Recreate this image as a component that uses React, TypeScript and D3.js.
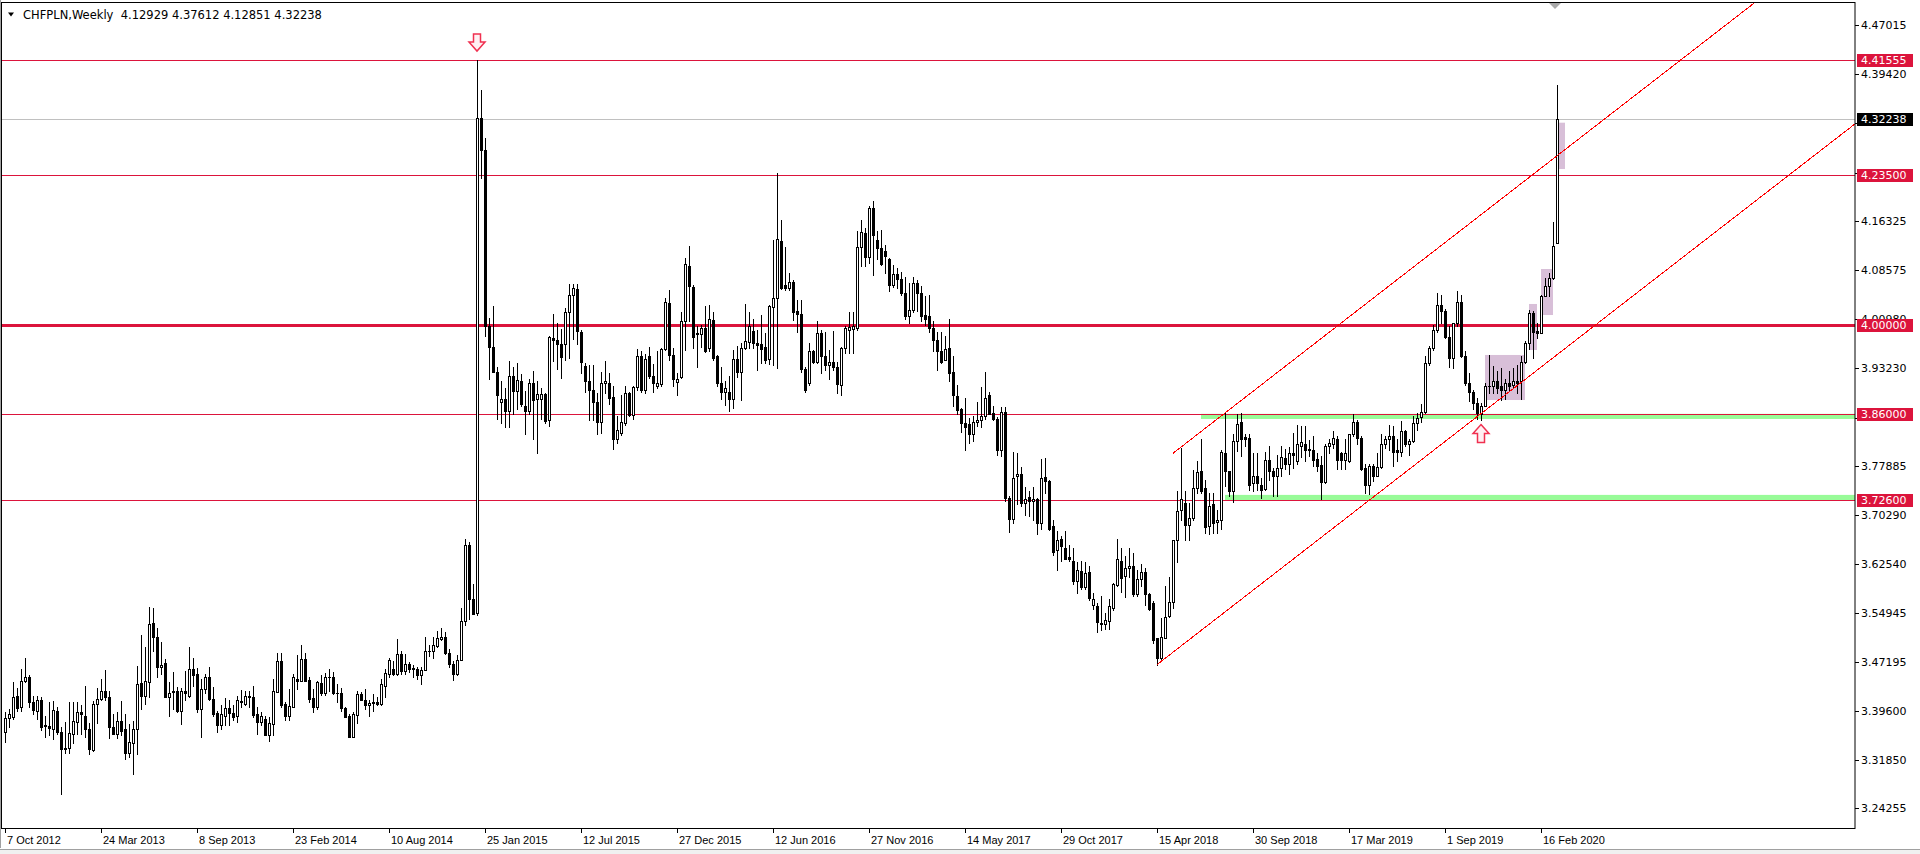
import React from "react";
import * as d3 from "d3";

// Weekly candles, [open, high, low, close], first bar = week of 7 Oct 2012
const ohlc: [number, number, number, number][] = [
  [3.362,3.393,3.346,3.385],[3.384,3.398,3.370,3.391],[3.386,3.440,3.383,3.418],[3.419,3.432,3.396,3.400],
  [3.401,3.461,3.396,3.443],[3.442,3.479,3.440,3.449],[3.449,3.452,3.401,3.409],[3.410,3.419,3.390,3.397],
  [3.396,3.419,3.383,3.412],[3.412,3.417,3.365,3.371],[3.372,3.388,3.354,3.373],[3.372,3.409,3.357,3.369],
  [3.367,3.411,3.352,3.397],[3.396,3.401,3.359,3.362],[3.363,3.370,3.265,3.336],[3.336,3.378,3.329,3.338],
  [3.337,3.410,3.329,3.361],[3.359,3.409,3.345,3.379],[3.378,3.409,3.359,3.394],[3.393,3.405,3.359,3.391],
  [3.388,3.435,3.354,3.367],[3.367,3.376,3.328,3.335],[3.334,3.411,3.333,3.406],[3.406,3.432,3.376,3.414],
  [3.414,3.445,3.412,3.426],[3.427,3.459,3.413,3.418],[3.418,3.426,3.353,3.370],[3.371,3.391,3.359,3.359],
  [3.360,3.393,3.353,3.379],[3.379,3.411,3.357,3.364],[3.367,3.390,3.320,3.329],[3.329,3.375,3.323,3.347],
  [3.345,3.380,3.297,3.367],[3.367,3.466,3.328,3.438],[3.439,3.515,3.398,3.419],[3.419,3.495,3.407,3.443],
  [3.440,3.558,3.417,3.531],[3.533,3.556,3.489,3.512],[3.512,3.526,3.449,3.465],[3.464,3.504,3.454,3.468],
  [3.470,3.477,3.417,3.418],[3.418,3.440,3.387,3.424],[3.425,3.456,3.398,3.426],[3.426,3.433,3.394,3.395],
  [3.395,3.432,3.375,3.426],[3.426,3.458,3.412,3.424],[3.419,3.496,3.417,3.461],[3.461,3.478,3.434,3.451],
  [3.453,3.463,3.393,3.399],[3.399,3.446,3.354,3.430],[3.430,3.454,3.423,3.449],[3.449,3.465,3.413,3.414],
  [3.414,3.433,3.387,3.391],[3.392,3.395,3.362,3.374],[3.374,3.405,3.367,3.390],[3.388,3.416,3.374,3.400],
  [3.400,3.413,3.374,3.392],[3.392,3.405,3.381,3.386],[3.387,3.419,3.378,3.412],[3.411,3.428,3.401,3.409],
  [3.407,3.427,3.405,3.419],[3.419,3.427,3.401,3.417],[3.418,3.434,3.386,3.389],[3.390,3.401,3.360,3.378],
  [3.378,3.393,3.373,3.387],[3.383,3.387,3.357,3.358],[3.358,3.386,3.349,3.377],[3.375,3.446,3.358,3.426],
  [3.425,3.487,3.425,3.474],[3.474,3.486,3.402,3.405],[3.406,3.409,3.381,3.387],[3.387,3.430,3.381,3.403],
  [3.401,3.453,3.401,3.448],[3.446,3.483,3.430,3.443],[3.443,3.499,3.443,3.477],[3.477,3.487,3.442,3.443],
  [3.444,3.448,3.409,3.414],[3.415,3.430,3.393,3.401],[3.401,3.443,3.399,3.440],[3.439,3.451,3.421,3.424],
  [3.423,3.455,3.421,3.449],[3.449,3.461,3.426,3.448],[3.449,3.456,3.422,3.424],[3.424,3.438,3.409,3.423],
  [3.424,3.431,3.396,3.400],[3.400,3.402,3.386,3.386],[3.387,3.390,3.354,3.354],[3.354,3.393,3.354,3.390],
  [3.389,3.426,3.376,3.422],[3.422,3.425,3.412,3.413],[3.413,3.430,3.398,3.405],[3.405,3.413,3.388,3.408],
  [3.408,3.422,3.395,3.409],[3.409,3.417,3.404,3.406],[3.406,3.446,3.404,3.438],[3.435,3.461,3.418,3.455],
  [3.453,3.478,3.449,3.475],[3.461,3.474,3.451,3.454],[3.454,3.508,3.451,3.484],[3.485,3.490,3.454,3.458],
  [3.458,3.484,3.453,3.469],[3.469,3.472,3.456,3.461],[3.462,3.468,3.448,3.461],[3.461,3.464,3.446,3.451],
  [3.452,3.464,3.438,3.460],[3.460,3.512,3.460,3.489],[3.489,3.498,3.482,3.490],[3.489,3.512,3.478,3.498],
  [3.497,3.520,3.495,3.509],[3.508,3.525,3.506,3.512],[3.512,3.519,3.485,3.486],[3.487,3.492,3.464,3.469],
  [3.469,3.474,3.444,3.453],[3.453,3.483,3.452,3.476],[3.476,3.557,3.476,3.536],[3.536,3.665,3.530,3.655],
  [3.655,3.660,3.540,3.571],[3.571,3.595,3.547,3.548],[3.549,4.4155,3.545,4.324],[4.324,4.369,4.231,4.275],
  [4.275,4.294,3.983,3.999],[3.999,4.011,3.915,3.965],[3.965,4.030,3.928,3.926],[3.926,3.934,3.853,3.891],
  [3.880,3.912,3.847,3.884],[3.884,3.902,3.840,3.866],[3.866,3.944,3.840,3.920],[3.920,3.934,3.860,3.897],
  [3.897,3.940,3.868,3.914],[3.913,3.924,3.874,3.877],[3.874,3.897,3.830,3.866],[3.866,3.915,3.860,3.910],
  [3.910,3.928,3.821,3.882],[3.884,3.913,3.799,3.892],[3.884,3.902,3.853,3.892],[3.892,3.894,3.847,3.850],
  [3.851,3.983,3.842,3.981],[3.980,4.017,3.944,3.977],[3.977,4.004,3.931,3.970],[3.970,3.994,3.917,3.950],
  [3.970,4.027,3.945,4.020],[4.020,4.064,3.949,4.048],[4.048,4.065,3.978,4.059],[4.056,4.064,3.970,3.991],
  [3.990,3.993,3.925,3.942],[3.936,3.940,3.896,3.913],[3.913,3.938,3.852,3.898],[3.898,3.938,3.852,3.879],
  [3.880,3.893,3.830,3.849],[3.848,3.927,3.831,3.909],[3.909,3.944,3.893,3.913],[3.909,3.925,3.877,3.886],
  [3.888,3.904,3.806,3.821],[3.821,3.857,3.815,3.836],[3.831,3.891,3.828,3.848],[3.846,3.904,3.844,3.893],
  [3.893,3.896,3.857,3.859],[3.859,3.905,3.853,3.903],[3.903,3.962,3.899,3.952],[3.952,3.959,3.896,3.899],
  [3.899,3.955,3.894,3.947],[3.952,3.966,3.917,3.921],[3.921,3.939,3.896,3.909],[3.904,3.959,3.901,3.909],
  [3.908,3.964,3.905,3.962],[3.962,4.042,3.961,4.036],[4.034,4.055,3.946,3.954],[3.954,3.964,3.904,3.915],
  [3.911,3.925,3.891,3.915],[3.919,4.021,3.917,4.006],[4.006,4.106,3.961,4.096],[4.093,4.124,4.006,4.062],
  [4.060,4.063,3.964,3.981],[3.986,3.998,3.934,3.988],[3.986,4.000,3.966,3.995],[3.995,4.030,3.958,3.960],
  [3.964,4.032,3.959,4.009],[4.008,4.020,3.945,3.948],[3.952,3.953,3.905,3.910],[3.910,3.934,3.885,3.896],
  [3.896,3.912,3.875,3.901],[3.896,3.920,3.865,3.884],[3.884,3.961,3.870,3.947],[3.947,3.968,3.919,3.927],
  [3.927,3.972,3.882,3.964],[3.964,4.033,3.962,3.975],[3.974,4.020,3.964,3.998],[3.991,4.009,3.964,3.972],
  [3.972,3.993,3.930,3.969],[3.970,4.016,3.940,3.962],[3.965,3.987,3.940,3.946],[3.947,4.032,3.939,4.030],
  [4.029,4.133,3.937,4.042],[4.042,4.239,3.933,4.135],[4.132,4.165,4.056,4.059],[4.063,4.123,4.055,4.058],
  [4.058,4.081,4.055,4.067],[4.067,4.071,4.008,4.021],[4.022,4.039,3.990,4.017],[4.017,4.040,3.926,3.932],
  [3.932,3.935,3.896,3.898],[3.909,3.972,3.906,3.960],[3.960,3.961,3.940,3.943],[3.943,4.007,3.940,3.988],
  [3.988,3.993,3.925,3.951],[3.952,3.990,3.930,3.938],[3.937,3.961,3.915,3.942],[3.942,3.991,3.930,3.934],
  [3.934,3.943,3.893,3.908],[3.906,3.966,3.890,3.964],[3.964,3.998,3.956,3.995],[3.993,4.021,3.957,3.997],
  [3.994,4.021,3.957,3.998],[3.995,4.147,3.992,4.122],[4.122,4.165,4.093,4.146],[4.144,4.152,4.093,4.107],
  [4.107,4.186,4.098,4.183],[4.183,4.194,4.079,4.142],[4.133,4.147,4.103,4.121],[4.121,4.149,4.095,4.096],
  [4.116,4.126,4.082,4.108],[4.103,4.105,4.053,4.063],[4.063,4.095,4.060,4.080],[4.080,4.090,4.058,4.072],
  [4.073,4.083,4.048,4.050],[4.050,4.075,4.009,4.015],[4.015,4.066,4.003,4.024],[4.024,4.076,4.021,4.066],
  [4.066,4.070,4.022,4.051],[4.051,4.061,4.006,4.014],[4.016,4.045,4.001,4.010],[4.014,4.048,3.989,3.996],
  [3.996,4.006,3.959,3.977],[3.977,3.990,3.929,3.959],[3.959,3.989,3.940,3.942],[3.946,3.983,3.946,3.963],
  [3.964,4.010,3.912,3.925],[3.926,3.952,3.874,3.890],[3.889,3.907,3.860,3.867],[3.868,3.870,3.832,3.847],
  [3.847,3.886,3.804,3.841],[3.845,3.855,3.816,3.830],[3.830,3.858,3.818,3.848],[3.848,3.879,3.842,3.852],
  [3.852,3.903,3.841,3.857],[3.857,3.927,3.853,3.886],[3.891,3.896,3.860,3.861],[3.862,3.873,3.851,3.853],
  [3.853,3.856,3.797,3.804],[3.804,3.871,3.795,3.864],[3.864,3.871,3.724,3.729],[3.729,3.732,3.676,3.697],
  [3.697,3.801,3.690,3.761],[3.763,3.800,3.719,3.766],[3.766,3.778,3.716,3.722],[3.721,3.747,3.703,3.728],
  [3.730,3.740,3.701,3.724],[3.725,3.747,3.694,3.727],[3.727,3.729,3.673,3.690],[3.690,3.791,3.680,3.761],
  [3.762,3.792,3.737,3.755],[3.756,3.758,3.679,3.680],[3.686,3.695,3.640,3.645],[3.647,3.677,3.616,3.664],
  [3.665,3.669,3.630,3.654],[3.650,3.677,3.633,3.634],[3.637,3.656,3.630,3.633],[3.631,3.650,3.594,3.599],
  [3.599,3.629,3.581,3.616],[3.615,3.630,3.586,3.590],[3.589,3.629,3.586,3.612],[3.613,3.622,3.570,3.573],
  [3.562,3.581,3.555,3.571],[3.560,3.565,3.519,3.535],[3.534,3.575,3.523,3.532],[3.531,3.549,3.524,3.538],
  [3.536,3.571,3.524,3.560],[3.557,3.596,3.553,3.594],[3.593,3.665,3.591,3.633],[3.630,3.650,3.582,3.604],
  [3.607,3.638,3.574,3.620],[3.620,3.650,3.606,3.623],[3.622,3.643,3.575,3.578],[3.578,3.616,3.576,3.602],
  [3.602,3.625,3.592,3.613],[3.613,3.620,3.562,3.578],[3.578,3.580,3.554,3.555],[3.564,3.568,3.502,3.506],
  [3.509,3.510,3.468,3.479],[3.479,3.541,3.477,3.512],[3.510,3.592,3.510,3.543],[3.544,3.606,3.543,3.566],
  [3.566,3.664,3.557,3.663],[3.663,3.740,3.629,3.709],[3.710,3.808,3.694,3.727],[3.722,3.740,3.663,3.687],
  [3.687,3.722,3.664,3.698],[3.698,3.773,3.695,3.745],[3.745,3.787,3.737,3.770],[3.771,3.821,3.737,3.740],
  [3.745,3.758,3.675,3.684],[3.685,3.737,3.672,3.717],[3.719,3.737,3.675,3.690],[3.691,3.711,3.675,3.695],
  [3.695,3.805,3.681,3.801],[3.800,3.862,3.748,3.771],[3.771,3.771,3.732,3.740],[3.740,3.829,3.723,3.819],
  [3.819,3.861,3.803,3.845],[3.848,3.862,3.795,3.822],[3.824,3.829,3.810,3.822],[3.823,3.829,3.742,3.750],
  [3.752,3.800,3.740,3.763],[3.763,3.800,3.742,3.752],[3.750,3.761,3.729,3.742],[3.743,3.801,3.742,3.789],
  [3.789,3.811,3.758,3.771],[3.771,3.776,3.732,3.763],[3.763,3.797,3.732,3.776],[3.776,3.811,3.763,3.794],
  [3.792,3.806,3.775,3.783],[3.783,3.809,3.766,3.800],[3.800,3.831,3.776,3.797],[3.787,3.843,3.783,3.813],
  [3.810,3.842,3.793,3.817],[3.813,3.842,3.787,3.805],[3.806,3.820,3.795,3.804],[3.804,3.826,3.779,3.789],
  [3.790,3.800,3.771,3.780],[3.781,3.795,3.727,3.754],[3.754,3.813,3.753,3.811],[3.810,3.822,3.800,3.815],
  [3.814,3.834,3.808,3.823],[3.822,3.826,3.775,3.789],[3.799,3.802,3.774,3.789],[3.789,3.822,3.774,3.799],
  [3.787,3.830,3.785,3.829],[3.829,3.860,3.826,3.849],[3.849,3.852,3.813,3.823],[3.823,3.826,3.773,3.774],
  [3.776,3.782,3.737,3.750],[3.750,3.783,3.736,3.779],[3.779,3.782,3.755,3.763],[3.764,3.800,3.763,3.778],
  [3.778,3.829,3.776,3.814],[3.814,3.826,3.808,3.821],[3.821,3.844,3.805,3.827],[3.827,3.842,3.779,3.802],
  [3.805,3.821,3.787,3.801],[3.802,3.850,3.795,3.834],[3.834,3.836,3.810,3.813],[3.813,3.821,3.797,3.818],
  [3.818,3.857,3.817,3.846],[3.846,3.863,3.836,3.855],[3.856,3.876,3.849,3.864],[3.864,3.951,3.862,3.941],
  [3.941,3.967,3.938,3.964],[3.964,4.001,3.961,3.993],[3.993,4.051,3.990,4.032],[4.032,4.048,4.003,4.022],
  [4.022,4.025,3.980,3.981],[3.981,3.998,3.935,3.948],[3.948,4.003,3.933,4.003],[4.003,4.053,3.998,4.037],
  [4.037,4.048,3.950,3.952],[3.952,3.959,3.907,3.909],[3.909,3.925,3.881,3.895],[3.895,3.899,3.869,3.878],
  [3.878,3.886,3.853,3.862],[3.860,3.878,3.852,3.874],[3.874,3.909,3.873,3.905],[3.904,3.954,3.894,3.905],
  [3.905,3.936,3.894,3.913],[3.913,3.928,3.894,3.902],[3.904,3.933,3.883,3.899],[3.899,3.916,3.884,3.910],
  [3.910,3.928,3.899,3.904],[3.907,3.933,3.902,3.913],[3.913,3.938,3.894,3.909],[3.912,3.951,3.884,3.943],
  [3.943,3.975,3.941,3.972],[3.972,4.024,3.963,4.019],[4.019,4.022,3.948,3.990],[3.991,4.003,3.980,3.988],
  [3.988,4.048,3.987,4.046],[4.046,4.074,4.045,4.062],[4.061,4.082,4.045,4.074],[4.074,4.161,4.072,4.124],
  [4.12929,4.37612,4.12851,4.32238],
];

const dateLabels = [
  "7 Oct 2012", "24 Mar 2013", "8 Sep 2013", "23 Feb 2014", "10 Aug 2014", "25 Jan 2015",
  "12 Jul 2015", "27 Dec 2015", "12 Jun 2016", "27 Nov 2016", "14 May 2017", "29 Oct 2017",
  "15 Apr 2018", "30 Sep 2018", "17 Mar 2019", "1 Sep 2019", "16 Feb 2020",
];
const dateLabelEvery = 24; // bars between date labels

const priceTicks = [
  4.47015, 4.3942, 4.3167, 4.2392, 4.16325, 4.08575, 4.0098, 3.9323, 3.8548,
  3.77885, 3.7029, 3.6254, 3.54945, 3.47195, 3.396, 3.3185, 3.24255,
];
// tick labels fully covered by level labels in the reference
const hiddenTickLabels = [4.3167, 4.2392, 3.8548];

const thinLevels = [4.41555, 4.235, 3.86, 3.726];
const mainLevel = 4.0;
const lastPrice = 4.32238;
const headerSymbol = "CHFPLN,Weekly";
const headerValues = ["4.12929", "4.37612", "4.12851", "4.32238"];

// green support/resistance zones: [fromBar, low, high]
const greenZones: [number, number, number][] = [
  [299, 3.853, 3.861],
  [305, 3.726, 3.734],
];
// pink boxes: [fromBar, toBar, low, high]
const pinkBoxes: [number, number, number, number][] = [
  [370, 380, 3.8827, 3.9533],
  [381, 383, 3.9611, 4.0332],
  [384, 387, 4.0159, 4.088],
  [388.3, 390, 4.2447, 4.3173],
];
// channel: lower line anchors (bar, price); upper line parallel starting bar & price
const channelLow: [number, number][] = [[288, 3.468], [368, 3.8565]];
const channelUpperStart: [number, number] = [292, 3.7992];
// arrows: [bar, price, direction]
const arrowMarks: [number, number, string][] = [
  [118, 4.4155, "down"],
  [369, 3.852, "up"],
];

const W = 1920;
const H = 854;
const plotRight = 1855;
const plotBottom = 828;
const plotTop = 2;

export default function App() {
  const x = d3.scaleLinear().domain([0, ohlc.length - 1]).range([5, 5 + 4 * (ohlc.length - 1)]);
  const y = d3.scaleLinear().domain([3.726, 4.41555]).range([500, 60]);
  const Y = (v: number) => Math.round(y(v));
  const crimson = "#DC143C";
  const font = "'DejaVu Sans', Verdana, sans-serif";

  const slope = (channelLow[1][1] - channelLow[0][1]) / (channelLow[1][0] - channelLow[0][0]);
  const farBar = 520;
  const lowerLine = d3.line<[number, number]>().x((d) => x(d[0])).y((d) => y(d[1]))([
    channelLow[0],
    [farBar, channelLow[0][1] + slope * (farBar - channelLow[0][0])],
  ]);
  const upperLine = d3.line<[number, number]>().x((d) => x(d[0])).y((d) => y(d[1]))([
    channelUpperStart,
    [farBar, channelUpperStart[1] + slope * (farBar - channelUpperStart[0])],
  ]);

  const arrowPath = (bar: number, price: number, dir: string) => {
    const cx = x(bar);
    if (dir === "down") {
      const tip = y(price) - 9;
      return `M${cx - 3.5},${tip - 17} L${cx + 3.5},${tip - 17} L${cx + 3.5},${tip - 9} L${cx + 8},${tip - 9} L${cx},${tip} L${cx - 8},${tip - 9} L${cx - 3.5},${tip - 9} Z`;
    }
    const tip = y(price) + 5;
    return `M${cx},${tip} L${cx + 8},${tip + 9} L${cx + 3.5},${tip + 9} L${cx + 3.5},${tip + 18} L${cx - 3.5},${tip + 18} L${cx - 3.5},${tip + 9} L${cx - 8},${tip + 9} Z`;
  };

  const shiftX = x(ohlc.length - 1) - 2;

  return (
    <div style={{ position: "absolute", left: 0, top: 0, width: W, height: H, background: "#fff" }}>
      <svg width={W} height={H} style={{ display: "block" }}>
        <defs>
          <clipPath id="plot">
            <rect x={2} y={plotTop + 1} width={plotRight - 2} height={plotBottom - plotTop - 1} />
          </clipPath>
        </defs>
        <rect x={0} y={0} width={W} height={H} fill="#fff" />
        <g clipPath="url(#plot)">
          {greenZones.map((z, i) => (
            <rect key={"g" + i} x={x(z[0])} y={y(z[2])} width={plotRight - x(z[0])} height={y(z[1]) - y(z[2])} fill="#98FB98" />
          ))}
          {pinkBoxes.map((b, i) => (
            <rect key={"p" + i} x={x(b[0])} y={y(b[3])} width={x(b[1]) - x(b[0])} height={y(b[2]) - y(b[3])} fill="#D8BFD8" />
          ))}
          <line x1={0} x2={plotRight} y1={Y(lastPrice) + 0.5} y2={Y(lastPrice) + 0.5} stroke="#C0C0C0" strokeWidth={1} />
          {thinLevels.map((lv) => (
            <line key={lv} x1={0} x2={plotRight} y1={Y(lv) + 0.5} y2={Y(lv) + 0.5} stroke={crimson} strokeWidth={1} />
          ))}
          <rect x={0} y={Y(mainLevel) - 1} width={plotRight} height={3} fill={crimson} />
          {ohlc.map((d, i) => {
            const [o, h, l, c] = d;
            const px = Math.round(x(i));
            const top = Y(Math.max(o, c));
            const bot = Y(Math.min(o, c));
            const bull = c >= o;
            return (
              <g key={i}>
                <line x1={px + 0.5} x2={px + 0.5} y1={Y(h)} y2={Y(l) + 1} stroke="#000" strokeWidth={1} />
                {bot - top < 1 ? (
                  <rect x={px - 1} y={top} width={3} height={1} fill="#000" />
                ) : bull ? (
                  <rect x={px - 0.5} y={top + 0.5} width={2} height={bot - top} fill="#fff" stroke="#000" strokeWidth={1} />
                ) : (
                  <rect x={px - 1} y={top} width={3} height={bot - top + 1} fill="#000" />
                )}
              </g>
            );
          })}
          <path d={lowerLine || ""} fill="none" stroke="#FF0000" strokeWidth={1} shapeRendering="crispEdges" />
          <path d={upperLine || ""} fill="none" stroke="#FF0000" strokeWidth={1} shapeRendering="crispEdges" />
          {arrowMarks.map((a, i) => (
            <path key={"a" + i} d={arrowPath(a[0], a[1], a[2])} fill="#FFF0F3" stroke="#F03050" strokeWidth={1.5} />
          ))}
          <path d={`M${shiftX - 6},3 L${shiftX + 6},3 L${shiftX},9 Z`} fill="#A9A9A9" />
        </g>

        <rect x={1.5} y={plotTop + 0.5} width={plotRight - 1.5} height={plotBottom - plotTop} fill="none" stroke="#000" strokeWidth={1} />
        <line x1={0.5} x2={0.5} y1={0} y2={plotBottom + 20} stroke="#A0A0A0" />

        <path d="M8,12.5 L14,12.5 L11,16.5 Z" fill="#000" />
        <text x={23} y={19} fontFamily={font} fontSize={11.5} fill="#000" style={{ whiteSpace: "pre" }}>
          {headerSymbol + "  " + headerValues.join(" ")}
        </text>

        {priceTicks.map((t) => (
          <g key={t}>
            <line x1={plotRight} x2={plotRight + 4} y1={Y(t) + 0.5} y2={Y(t) + 0.5} stroke="#000" />
            {hiddenTickLabels.indexOf(t) < 0 && (
              <text x={plotRight + 6} y={Y(t) + 4} fontFamily={font} fontSize={11} fill="#000">
                {t.toFixed(5)}
              </text>
            )}
          </g>
        ))}
        {[...thinLevels, mainLevel].map((lv) => (
          <g key={"lab" + lv}>
            <rect x={plotRight + 2} y={Y(lv) - 6} width={56} height={13} fill={crimson} />
            <text x={plotRight + 6} y={Y(lv) + 4} fontFamily={font} fontSize={11} fill="#fff">
              {lv.toFixed(5)}
            </text>
          </g>
        ))}
        <rect x={plotRight + 2} y={Y(lastPrice) - 6} width={56} height={13} fill="#000" />
        <text x={plotRight + 6} y={Y(lastPrice) + 4} fontFamily={font} fontSize={11} fill="#fff">
          {lastPrice.toFixed(5)}
        </text>

        {dateLabels.map((lab, i) => {
          const tx = Math.round(x(i * dateLabelEvery));
          return (
            <g key={lab}>
              <line x1={tx + 0.5} x2={tx + 0.5} y1={plotBottom} y2={plotBottom + 5} stroke="#000" />
              <text x={tx + 2} y={844} fontFamily="'Liberation Sans', Arial, sans-serif" fontSize={11} fill="#000">
                {lab}
              </text>
            </g>
          );
        })}
        <rect x={0} y={850} width={W} height={4} fill="#F0F0F0" />
        <line x1={0} x2={W} y1={849.5} y2={849.5} stroke="#A0A0A0" />
      </svg>
    </div>
  );
}
